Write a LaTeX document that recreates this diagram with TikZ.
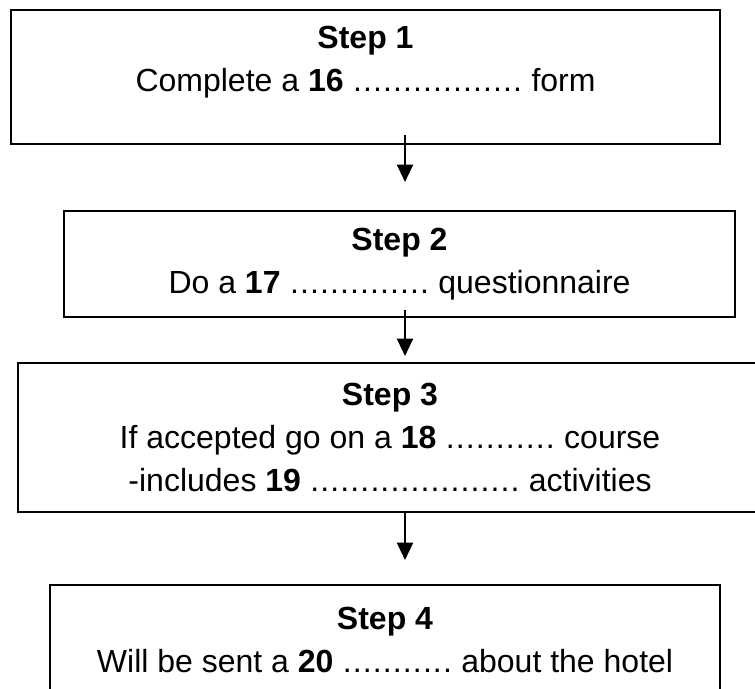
\documentclass[tikz,border=0pt]{standalone}
\usepackage{fontspec}
\setmainfont{Liberation Sans}
\usetikzlibrary{arrows.meta,positioning}
\newcommand{\blank}[1]{\foreach \k in {1,...,#1}{\makebox[7.5pt]{.}}}

\begin{document}
\begin{tikzpicture}[x=0.75pt, y=-0.75pt, >={Triangle[length=13pt, width=12pt]},
    stepbox/.style={draw, line width=2pt, align=center, inner sep=0pt, outer sep=0pt, font=\fontsize{24}{32}\selectfont},
    flow/.style={->, line width=1.6pt}]
  \useasboundingbox (0,0) rectangle (755,688);
  \clip (0,0) rectangle (755,688);
  \coordinate (spine) at (405,0);
  \node[stepbox, minimum width=531.75pt, minimum height=100.5pt] (apply) at (365.5,77) {\textbf{Step 1}\\Complete a \textbf{16} \blank{17} form\\[-5pt]\mbox{}};
  \node[stepbox, minimum width=503.25pt, minimum height=79.5pt, below=50.25pt of apply, xshift=25.5pt] (quiz) {\textbf{Step 2}\\Do a \textbf{17} \blank{14} questionnaire};
  \node[stepbox, minimum width=558pt, minimum height=111.75pt, below=34.5pt of quiz, xshift=-7.125pt] (course) {\textbf{Step 3}\\If accepted go on a \textbf{18} \blank{11} course\\-includes \textbf{19} \blank{21} activities};
  \node[stepbox, minimum width=502.5pt, minimum height=82.5pt, below=54.75pt of course, xshift=-3.75pt] (hotel) {\textbf{Step 4}\\Will be sent a \textbf{20} \blank{11} about the hotel};
  \draw[flow, shorten <=-6.75pt, shorten >=21.75pt] (apply.south -| spine) -- (quiz.north -| spine);
  \draw[flow, shorten <=-5.25pt, shorten >=5.25pt] (quiz.south -| spine) -- (course.north -| spine);
  \draw[flow, shorten >=18.75pt] (course.south -| spine) -- (hotel.north -| spine);
\end{tikzpicture}
\end{document}
